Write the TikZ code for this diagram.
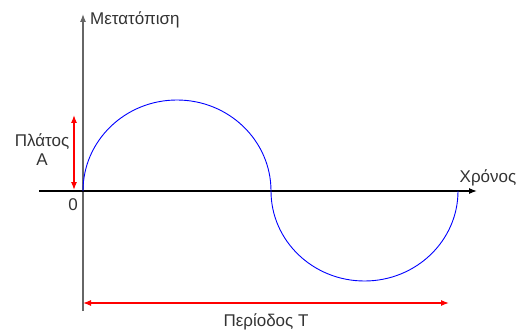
\documentclass[tikz,border=0pt]{standalone}
\usepackage{fontspec}
\setmainfont{Liberation Sans}
\usetikzlibrary{arrows.meta}
\begin{document}
\begin{tikzpicture}[x=1pt, y=-1pt, every node/.style={font=\fontsize{17}{19}\selectfont, inner sep=0pt, text=black!80}, >={Latex[length=8pt,width=6pt]}]
        \useasboundingbox (0,0) rectangle (521,331);
        \coordinate (o) at (83,191);
        \coordinate (ytop) at (83,14);
        \coordinate (ybot) at (83,311);
        \coordinate (xl) at (39,191);
        \coordinate (xr) at (477,191);
        \coordinate (amptop) at (74,115);
        \coordinate (ampbot) at (74,190);
        \coordinate (perl) at (83,303);
        \coordinate (perr) at (449,303);
        \node[anchor=west] (ylab) at (90,20) {Μετατόπιση};
        \node (xlab) at (488,178) {Χρόνος};
        \node[align=center] (amp) at (42,150) {Πλάτος\\Α};
        \node (zero) at (73,205) {0};
        \node (per) at (266,322) {Περίοδος Τ};
        \draw[black!60, line width=1.2pt, ->] (ybot) -- (ytop);
        \draw[black, line width=1.2pt, ->] (xl) -- (xr);
        \draw[blue, line width=0.9pt] (o) arc[start angle=180, end angle=360, x radius=94, y radius=91]
            arc[start angle=180, end angle=0, x radius=93.5, y radius=90];
        \draw[red, line width=1.2pt, <->] (amptop) -- (ampbot);
        \draw[red, line width=1.2pt, <->] (perl) -- (perr);
    \end{tikzpicture}
\end{document}
